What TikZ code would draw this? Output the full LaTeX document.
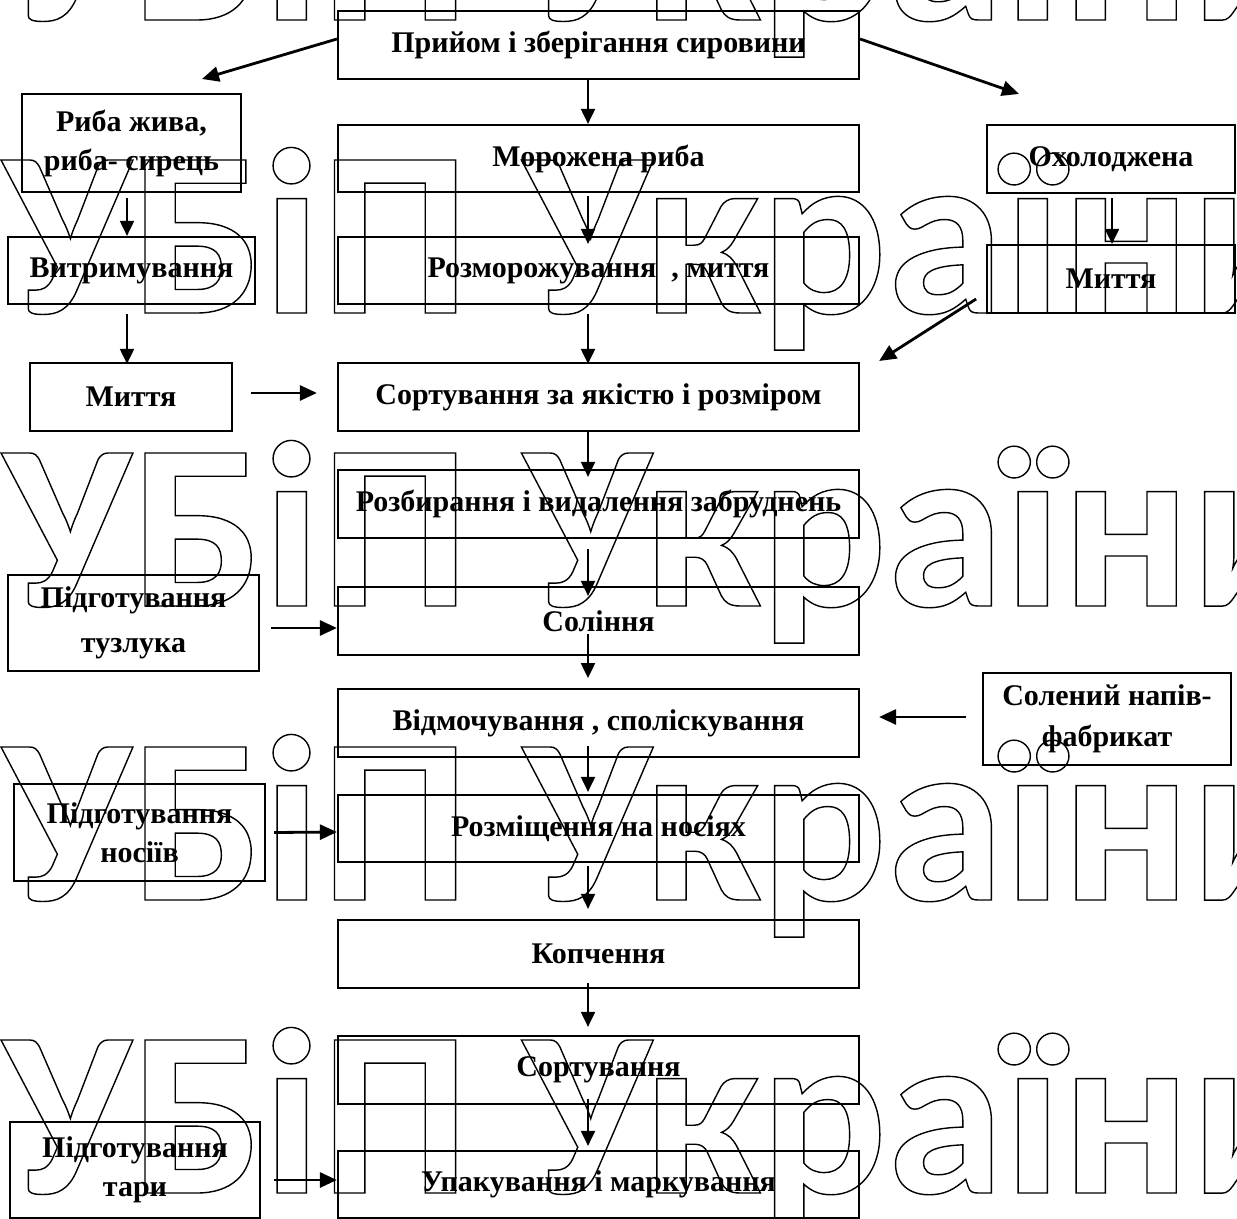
\documentclass[tikz,border=0pt]{standalone}
\usepackage{fontspec}
\setmainfont{Liberation Serif}
\newfontfamily\wmfont{Carlito}
\usetikzlibrary{arrows.meta}
\newcommand{\outltext}[1]{\special{pdf:literal direct 1 Tr 0.7 w}#1\special{pdf:literal direct 0 Tr}}
\newcommand{\bx}[6]{\node[box, minimum width={(#4-#2)*0.5pt}, minimum height={(#5-#3)*0.5pt}] (#1) at ({(#2+#4)/2},{(#3+#5)/2}) {#6};}
\begin{document}
\begin{tikzpicture}[x=0.5pt,y=-0.5pt,
  box/.style={draw, line width=1.1pt, inner sep=0pt, align=center,
    font=\fontsize{15}{19.5}\selectfont\bfseries},
  varr/.style={line width=1pt, -{Triangle[length=7.5pt,width=7pt]}},
  harr/.style={line width=1.4pt, -{Triangle[length=8.5pt,width=7.5pt]}},
  wm/.style={anchor=base west, inner sep=0pt, font=\wmfont\bfseries\fontsize{118}{118}\selectfont}]
\useasboundingbox (0,0) rectangle (1237,1219);
\fill[white] (0,0) rectangle (1237,1219);

% boxes
\bx{priy}{338}{11}{859}{79}{Прийом і зберігання сировини}
\bx{ryba}{22}{94}{241}{192}{Риба жива,\\риба- сирець}
\bx{moroz}{338}{125}{859}{192}{Морожена риба}
\bx{ohol}{987}{125}{1235}{193}{Охолоджена}
\bx{vytr}{8}{237}{255}{304}{Витримування}
\bx{rozm}{338}{237}{859}{304}{Розморожування\ \ , миття}
\bx{myttwo}{987}{245}{1235}{313}{Миття}
\bx{mytone}{30}{363}{232}{431}{Миття}
\bx{sort}{338}{363}{859}{431}{Сортування за якістю і розміром}
\bx{rozb}{338}{470}{859}{538}{Розбирання і видалення забруднень}
\bx{tuz}{8}{575}{259}{671}{Підготування\\[3pt]тузлука}
\bx{sol}{338}{587}{859}{655}{Соління}
\bx{vidm}{338}{689}{859}{757}{Відмочування , споліскування}
\bx{solen}{983}{673}{1231}{765}{Солений напів-\\[1pt]фабрикат}
\bx{nos}{14}{784}{265}{881}{Підготування\\носіїв}
\bx{rozmis}{338}{795}{859}{862}{Розміщення на носіях}
\bx{kopch}{338}{920}{859}{988}{Копчення}
\bx{sorttwo}{338}{1036}{859}{1104}{Сортування}
\bx{upak}{338}{1151}{859}{1218}{Упакування і маркування}
\bx{tary}{10}{1122}{260}{1218}{Підготування\\тари}

% free ends of connectors
\coordinate (col) at (588,0);
\coordinate (lcol) at (127,0);
\coordinate (rcol) at (1112,0);
\coordinate (dl) at (202,79);
\coordinate (dr) at (1019,94);

% connectors
\draw[varr] (priy.south -| col) -- (moroz.north -| col);
\draw[harr] (priy.west |- 0,39) -- (dl);
\draw[harr] (priy.east |- 0,39) -- (dr);
\draw[varr] ([yshift=-2.5pt]ryba.south -| lcol) -- (vytr.north -| lcol);
\draw[varr] ([yshift=-1.5pt]moroz.south -| col) -- ([yshift=-4pt]rozm.north -| col);
\draw[varr] ([yshift=-2pt]ohol.south -| rcol) -- (myttwo.north -| rcol);
\draw[varr] ([yshift=-4.5pt]vytr.south -| lcol) -- ([yshift=-1pt]mytone.north -| lcol);
\draw[varr] ([yshift=-4.5pt]rozm.south -| col) -- ([yshift=-1pt]sort.north -| col);
\draw[harr] ([xshift=9pt,yshift=2pt]mytone.east) -- ([xshift=-10pt,yshift=2pt]sort.west);
\draw[harr] ([xshift=58pt,yshift=49pt]sort.east) -- ([xshift=9.5pt,yshift=18pt]sort.east);
\draw[varr] (sort.south -| col) -- ([yshift=-4pt]rozb.north -| col);
\draw[varr] ([yshift=-5pt]rozb.south -| col) -- ([yshift=-5pt]sol.north -| col);
\draw[varr] ([yshift=11pt]sol.south -| col) -- ([yshift=-11pt]sol.south -| col);
\draw[harr] ([xshift=5.5pt,yshift=-2.5pt]tuz.east) -- ([yshift=-3.5pt]sol.west);
\draw[harr] ([xshift=-8pt,yshift=1pt]solen.west) -- ([xshift=9.5pt,yshift=3pt]vidm.east);
\draw[varr] ([yshift=6pt]vidm.south -| col) -- ([yshift=1pt]rozmis.north -| col);
\draw[harr] ([xshift=4pt]nos.east) -- ([yshift=-1.75pt]rozmis.west);
\draw[varr] ([yshift=-1.5pt]rozmis.south -| col) -- ([yshift=5pt]kopch.north -| col);
\draw[varr] ([yshift=3pt]kopch.south -| col) -- ([yshift=4pt]sorttwo.north -| col);
\draw[varr] ([yshift=3pt]sorttwo.south -| col) -- ([yshift=2pt]upak.north -| col);
\draw[harr] ([xshift=6.5pt,yshift=-5pt]tary.east) -- ([yshift=2.25pt]upak.west);

% watermark
\foreach \yy [count=\i] in {20,313,606,900,1193}
  \node[wm] (wm\i) at (2,\yy) {\outltext{УБіП України}};
\end{tikzpicture}
\end{document}
